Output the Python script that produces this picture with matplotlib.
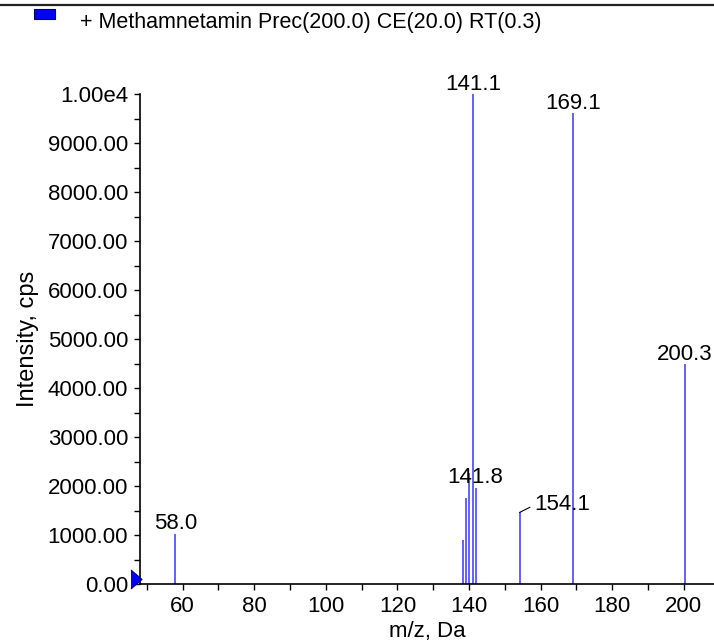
import matplotlib.pyplot as plt
from matplotlib.ticker import MultipleLocator, FuncFormatter
from matplotlib.lines import Line2D
from matplotlib.patches import Rectangle
from matplotlib.transforms import offset_copy

plt.rcParams['font.family'] = ['Liberation Sans', 'DejaVu Sans']

mz = [58.0, 138.3, 139.2, 140.0, 141.1, 141.8, 154.1, 169.1, 200.3]
intensity = [1018, 900, 1762, 2270, 10000, 1967, 1461, 9611, 4488]
labeled = [58.0, 141.1, 141.8, 169.1, 200.3]
offset_label = 154.1
title = '+ Methamnetamin Prec(200.0) CE(20.0) RT(0.3)'

fs = 16
fig = plt.figure(figsize=(7.14, 6.41), dpi=100)
ax = fig.add_axes([140/714, 57/641, 574/714, 489.7/641])

ax.vlines(mz, 0, intensity, color='#4646ff', lw=1.2)
for m, h in zip(mz, intensity):
    if m in labeled:
        ax.annotate(f'{m:.1f}', (m, h), xytext=(0, 3.4), textcoords='offset points',
                    ha='center', va='baseline', fontsize=fs, annotation_clip=False)
    elif m == offset_label:
        ax.annotate(f'{m:.1f}', (m, h), xytext=(10.4, 2.0), textcoords='offset points',
                    ha='left', va='baseline', fontsize=fs,
                    arrowprops=dict(arrowstyle='-', color='black', lw=0.8,
                                    shrinkA=1, shrinkB=0, relpos=(0, 0.45)))

ax.set_xlim(48.1, 208.4)
ax.set_ylim(0, 10000)
ax.xaxis.set_major_locator(MultipleLocator(20))
ax.xaxis.set_minor_locator(MultipleLocator(10))
ax.yaxis.set_major_locator(MultipleLocator(1000))
ax.yaxis.set_minor_locator(MultipleLocator(500))
ax.yaxis.set_major_formatter(FuncFormatter(lambda v, p: '1.00e4' if v >= 10000 else f'{v:.2f}'))
ax.tick_params(which='both', direction='out', length=4.5, width=1, labelsize=fs, pad=4)
for s in ['top', 'right']:
    ax.spines[s].set_visible(False)
for s in ['left', 'bottom']:
    ax.spines[s].set_linewidth(1.2)

ax.set_xlabel('m/z, Da', fontsize=fs, labelpad=3)
ax.set_ylabel('Intensity, cps', fontsize=17)
ax.yaxis.set_label_coords(-0.176, 0.5)

# marker on left edge near zero
tri = [(-0.58, -1), (0.58, 0), (-0.58, 1)]
mk_tr = offset_copy(ax.transData, fig=fig, x=-3.2, y=3.8, units='points')
ax.plot([ax.get_xlim()[0]], [0], marker=tri, ms=13.7, color='#0000ff',
        markeredgecolor='#000080', markeredgewidth=0.8, clip_on=False, zorder=5,
        transform=mk_tr)

# header: top rule, legend swatch, title
fig.add_artist(Line2D([0, 1], [1 - 4.5/641, 1 - 4.5/641], color='#222222', lw=1.6))
fig.add_artist(Rectangle((34/714, 1 - 19/641), 21/714, 10/641,
                         facecolor='#0000ff', edgecolor='#000060', lw=0.8))
fig.text(80/714, 1 - 28/641, title, fontsize=15.5, va='baseline', ha='left')

fig.savefig('out.png', dpi=100)
